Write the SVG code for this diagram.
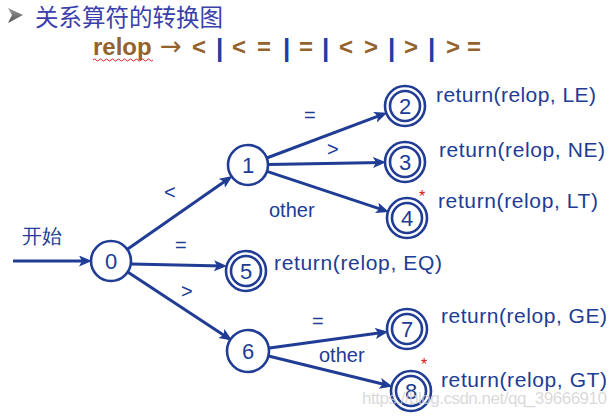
<svg xmlns="http://www.w3.org/2000/svg" width="616" height="417" viewBox="0 0 616 417">
<defs>
<marker id="arr" markerUnits="userSpaceOnUse" markerWidth="14" markerHeight="12" refX="9" refY="5.5" orient="auto">
<path d="M0,0 L13,5.5 L0,11 L3,5.5 z" fill="#203c94"/>
</marker>
<linearGradient id="bul" x1="0" y1="0" x2="0" y2="1">
<stop offset="0" stop-color="#9a9a9a"/>
<stop offset="1" stop-color="#505050"/>
</linearGradient>
</defs>
<style>
.e{stroke:#203c94;stroke-width:3;fill:none;marker-end:url(#arr)}
.n{fill:#fff;stroke:#203c94;stroke-width:2.6}
.nl{font-family:"Liberation Sans",Arial,sans-serif;font-size:22px;fill:#203c94;text-anchor:middle}
.t{font-family:"Liberation Sans",Arial,sans-serif;font-size:21px;fill:#203c94}
.lb{font-family:"Liberation Sans",Arial,sans-serif;font-size:20px;fill:#203c94}
.h{font-family:"Noto Sans CJK SC","Noto Sans",sans-serif;font-size:23.5px;fill:#3a40ac}
.br{font-family:"Liberation Sans",Arial,sans-serif;font-size:24px;font-weight:bold;fill:#94622c}
.bar{font-family:"Liberation Sans",Arial,sans-serif;font-size:26px;font-weight:bold;fill:#1d3fa0}
.st{font-family:"Liberation Sans",Arial,sans-serif;font-size:16px;fill:#e01010}
</style>
<rect width="616" height="417" fill="#fff"/>
<g id="header">
<polygon points="8,8 23,15 8,23 12,15" fill="url(#bul)"/>
<text class="h" x="35" y="26">关系算符的转换图</text>
<text class="br" x="93" y="55" font-size="25">relop</text>
<path d="M93,60 q1.5,-2 3,0 t3,0 t3,0 t3,0 t3,0 t3,0 t3,0 t3,0 t3,0 t3,0 t3,0 t3,0 t3,0 t3,0 t3,0 t3,0 t3,0 t3,0 t3,0 t3,0" fill="none" stroke="#e02020" stroke-width="1"/>
<text x="160" y="55" font-family="'DejaVu Sans',sans-serif" font-size="26" fill="#94622c">→</text>
<text class="br" x="192" y="55">&lt;</text>
<text class="bar" x="216" y="57">|</text>
<text class="br" x="232" y="55">&lt;</text>
<text class="br" x="257" y="55">=</text>
<text class="bar" x="283" y="57">|</text>
<text class="br" x="299" y="55">=</text>
<text class="bar" x="322" y="57">|</text>
<text class="br" x="339" y="55">&lt;</text>
<text class="br" x="364" y="55">&gt;</text>
<text class="bar" x="388" y="57">|</text>
<text class="br" x="404" y="55">&gt;</text>
<text class="bar" x="428" y="57">|</text>
<text class="br" x="446" y="55">&gt;</text>
<text class="br" x="467" y="55">=</text>
</g>
<g id="connectors">
<line class="e" x1="13" y1="261" x2="88" y2="261"/>
<line class="e" x1="127" y1="249.5" x2="229.2" y2="178.2"/>
<line class="e" x1="131" y1="264" x2="223" y2="266"/>
<line class="e" x1="127.7" y1="272" x2="228.8" y2="338.4"/>
<line class="e" x1="266.7" y1="158" x2="383.5" y2="114.1"/>
<line class="e" x1="268" y1="164.6" x2="382" y2="162.4"/>
<line class="e" x1="267" y1="171.3" x2="385.2" y2="210.7"/>
<line class="e" x1="267.8" y1="348.3" x2="384.2" y2="332.2"/>
<line class="e" x1="267.4" y1="355.8" x2="388.7" y2="385.5"/>
<text class="lb" x="22" y="243" font-family="'Noto Sans CJK SC',sans-serif" font-size="19">开始</text>
<text class="lb" x="164" y="199">&lt;</text>
<text class="lb" x="175" y="252">=</text>
<text class="lb" x="181" y="298">&gt;</text>
<text class="lb" x="304" y="122">=</text>
<text class="lb" x="327" y="156">&gt;</text>
<text class="lb" x="269" y="217">other</text>
<text class="lb" x="312" y="328">=</text>
<text class="lb" x="319" y="362">other</text>
</g>
<g id="n0"><circle class="n" cx="111" cy="261" r="20"/><text class="nl" x="111" y="269">0</text></g>
<g id="n1"><circle class="n" cx="248" cy="165" r="20"/><text class="nl" x="248" y="173">1</text></g>
<g id="n2"><circle class="n" cx="405" cy="106" r="20"/><circle class="n" cx="405" cy="106" r="15"/><text class="nl" x="405" y="114">2</text><text class="t" x="436" y="102" textLength="160">return(relop, LE)</text></g>
<g id="n3"><circle class="n" cx="405" cy="162" r="20"/><circle class="n" cx="405" cy="162" r="15"/><text class="nl" x="405" y="170">3</text><text class="t" x="439" y="157" textLength="166">return(relop, NE)</text></g>
<g id="n4"><circle class="n" cx="407" cy="218" r="20"/><circle class="n" cx="407" cy="218" r="15"/><text class="nl" x="407" y="226">4</text><text class="st" x="419" y="202">*</text><text class="t" x="438" y="208" textLength="160">return(relop, LT)</text></g>
<g id="n5"><circle class="n" cx="246" cy="271" r="20"/><circle class="n" cx="246" cy="271" r="15"/><text class="nl" x="246" y="279">5</text><text class="t" x="274" y="270" textLength="168">return(relop, EQ)</text></g>
<g id="n6"><circle class="n" cx="248" cy="351" r="21"/><text class="nl" x="248" y="359">6</text></g>
<g id="n7"><circle class="n" cx="407" cy="329" r="20"/><circle class="n" cx="407" cy="329" r="15"/><text class="nl" x="407" y="337">7</text><text class="t" x="441" y="323" textLength="166">return(relop, GE)</text></g>
<g id="n8"><circle class="n" cx="411" cy="391" r="20"/><circle class="n" cx="411" cy="391" r="15"/><text class="nl" x="411" y="399">8</text><text class="st" x="421" y="370">*</text><text class="t" x="441" y="387" textLength="166">return(relop, GT)</text></g>
<text x="362" y="404" font-family="'Liberation Sans',Arial,sans-serif" font-size="17" fill="#d0d0d0" fill-opacity="0.8" textLength="245">https://blog.csdn.net/qq_39666910</text>
</svg>
